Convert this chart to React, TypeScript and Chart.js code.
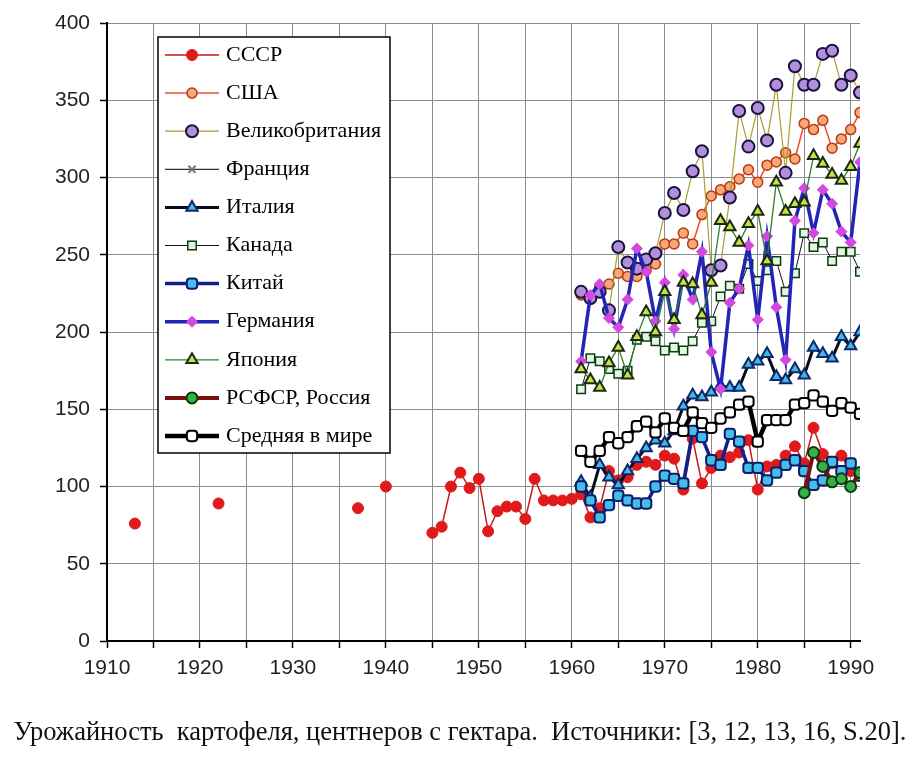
import React, { useEffect, useRef } from 'react';
import { Chart, registerables } from 'chart.js';
import { drawPoint } from 'chart.js/helpers';

Chart.register(...registerables);

const xTickValues = [1910, 1915, 1920, 1925, 1930, 1935, 1940, 1945, 1950, 1955, 1960, 1965, 1970, 1975, 1980, 1985, 1990];

const ussrYears = [1913, 1914, 1922, 1923, 1937, 1938, 1940, 1941,
  1945, 1946, 1947, 1948, 1949, 1950, 1951, 1952, 1953, 1954, 1955, 1956, 1957, 1958, 1959, 1960,
  1961, 1962, 1963, 1964, 1965, 1966, 1967, 1968, 1969, 1970, 1971, 1972, 1973, 1974, 1975,
  1976, 1977, 1978, 1979, 1980, 1981, 1982, 1983, 1984, 1985, 1986, 1987, 1988, 1989, 1990];
const ussrValues = [76, null, 89, null, 86, null, 100, null,
  70, 74, 100, 109, 99, 105, 71, 84, 87, 87, 79, 105, 91, 91, 91, 92,
  95, 80, 86, 110, 104, 106, 114, 116, 114, 120, 118, 98, 131, 102, 112,
  120, 119, 122, 130, 98, 113, 114, 120, 126, 115, 138, 121, 115, 120, 110];

const years = [1961, 1962, 1963, 1964, 1965, 1966, 1967, 1968, 1969, 1970, 1971, 1972, 1973, 1974, 1975,
  1976, 1977, 1978, 1979, 1980, 1981, 1982, 1983, 1984, 1985, 1986, 1987, 1988, 1989, 1990, 1991];

const usaValues = [224, 221, 229, 231, 238, 236, 236, 240, 244, 257, 257, 264, 257, 276, 288, 292, 294, 299, 305, 297, 308, 310, 316, 312, 335, 331, 337, 319, 325, 331, 342];
const ukValues = [226, 222, 226, 214, 255, 245, 241, 247, 251, 277, 290, 279, 304, 317, 240, 243, 287, 343, 320, 345, 324, 360, 303, 372, 360, 360, 380, 382, 360, 366, 355];
const franceValues: (number | null)[] = [];
const italyValues = [103, 93, 114, 106, 101, 110, 118, 125, 130, 128, 136, 152, 159, 158, 161, 165, 164, 164, 179, 181, 186, 171, 169, 176, 172, 190, 186, 183, 197, 191, 200];
const canadaValues = [163, 183, 181, 176, 173, 175, 195, 197, 194, 188, 190, 188, 194, 206, 207, 223, 230, 228, 244, 233, 240, 246, 226, 238, 264, 255, 258, 246, 252, 252, 239];
const chinaValues = [100, 91, 80, 88, 94, 91, 89, 89, 100, 107, 105, 102, 136, 132, 117, 114, 134, 129, 112, 112, 104, 109, 114, 117, 110, 101, 104, 116, 110, 115, 107];
const germanyValues = [181, 224, 231, 209, 203, 221, 254, 239, 207, 232, 202, 237, 221, 252, 187, 163, 219, 228, 256, 208, 262, 216, 182, 272, 293, 264, 292, 283, 265, 258, 310];
const japanValues = [176, 169, 164, 180, 190, 172, 197, 213, 200, 226, 208, 232, 231, 211, 232, 272, 268, 258, 270, 278, 246, 297, 278, 283, 284, 314, 309, 302, 298, 307, 322];
const rsfsrYears = [1985, 1986, 1987, 1988, 1989, 1990, 1991];
const rsfsrValues = [96, 122, 113, 103, 105, 100, 109];
const worldValues = [123, 116, 123, 132, 128, 132, 139, 142, 135, 144, 138, 136, 148, 141, 138, 144, 148, 153, 155, 129, 143, 143, 143, 153, 154, 159, 155, 149, 154, 151, 147];

const caption = 'Урожайность  картофеля, центнеров с гектара.  Источники: [3, 12, 13, 16, S.20].';

const pts = (xs: number[], ys: (number | null)[]) => ys.map((y, i) => ({ x: xs[i], y }));

const insetLegend = {
  id: 'insetLegend',
  afterDatasetsDraw(chart: any) {
    const ctx = chart.ctx as CanvasRenderingContext2D;
    ctx.save();
    const bx = 158, by = 37, bw = 232, bh = 416;
    ctx.fillStyle = '#ffffff';
    ctx.fillRect(bx, by, bw, bh);
    ctx.strokeStyle = '#000';
    ctx.lineWidth = 1.5;
    ctx.strokeRect(bx, by, bw, bh);
    chart.data.datasets.forEach((ds: any, i: number) => {
      const y = 55 + i * 38.1;
      ctx.strokeStyle = ds.borderColor;
      ctx.lineWidth = ds.borderWidth;
      ctx.beginPath();
      ctx.moveTo(165, y);
      ctx.lineTo(219, y);
      ctx.stroke();
      ctx.fillStyle = ds.pointBackgroundColor;
      ctx.strokeStyle = ds.pointBorderColor;
      ctx.lineWidth = ds.pointBorderWidth;
      drawPoint(ctx, { pointStyle: ds.pointStyle, radius: ds.pointRadius, borderWidth: ds.pointBorderWidth, rotation: 0 } as any, 192, y);
      ctx.fillStyle = '#000';
      ctx.font = '22px "Liberation Serif"';
      ctx.textBaseline = 'middle';
      ctx.textAlign = 'left';
      ctx.fillText(ds.label, 226, y);
    });
    ctx.restore();
  },
  afterDraw(chart: any) {
    const ctx = chart.ctx as CanvasRenderingContext2D;
    ctx.save();
    ctx.fillStyle = '#111';
    ctx.font = '26.5px "Liberation Serif", "Times New Roman", serif';
    ctx.textAlign = 'center';
    ctx.textBaseline = 'alphabetic';
    ctx.fillText(caption, 460, 740);
    ctx.restore();
  },
};

export default function App() {
  const ref = useRef<HTMLCanvasElement | null>(null);
  useEffect(() => {
    document.body.style.margin = '0';
    document.body.style.background = '#fff';
    const canvas = ref.current!;
    const mk = (label: string, data: any[], o: any) => ({ label, data, ...o });
    const datasets = [
      mk('СССР', pts(ussrYears, ussrValues), { borderColor: '#c81818', borderWidth: 1.5, pointStyle: 'circle', pointRadius: 5.5, pointBackgroundColor: '#e01a1a', pointBorderColor: '#e01a1a', pointBorderWidth: 1 }),
      mk('США', pts(years, usaValues), { borderColor: '#f04a2a', borderWidth: 1.5, pointStyle: 'circle', pointRadius: 5, pointBackgroundColor: '#f8a878', pointBorderColor: '#b83a10', pointBorderWidth: 1.5 }),
      mk('Великобритания', pts(years, ukValues), { borderColor: '#a8a030', borderWidth: 1.2, pointStyle: 'circle', pointRadius: 6, pointBackgroundColor: '#b090d8', pointBorderColor: '#1c1040', pointBorderWidth: 2 }),
      mk('Франция', pts(years, franceValues), { borderColor: '#000', borderWidth: 1, pointStyle: 'crossRot', pointRadius: 5, pointBackgroundColor: '#777', pointBorderColor: '#777', pointBorderWidth: 2 }),
      mk('Италия', pts(years, italyValues), { borderColor: '#0a0a1a', borderWidth: 3, pointStyle: 'triangle', pointRadius: 6.5, pointBackgroundColor: '#48b4e8', pointBorderColor: '#0a2a6a', pointBorderWidth: 2 }),
      mk('Канада', pts(years, canadaValues), { borderColor: '#111', borderWidth: 1, pointStyle: 'rect', pointRadius: 6, pointBackgroundColor: '#e4f8e0', pointBorderColor: '#0c3a14', pointBorderWidth: 1.5 }),
      mk('Китай', pts(years, chinaValues), { borderColor: '#14208a', borderWidth: 3.5, pointStyle: 'rectRounded', pointRadius: 6, pointBackgroundColor: '#48bce8', pointBorderColor: '#0a1e6a', pointBorderWidth: 2 }),
      mk('Германия', pts(years, germanyValues), { borderColor: '#2224b8', borderWidth: 3.5, pointStyle: 'rectRot', pointRadius: 5.5, pointBackgroundColor: '#d248e0', pointBorderColor: '#d248e0', pointBorderWidth: 1 }),
      mk('Япония', pts(years, japanValues), { borderColor: '#2a8030', borderWidth: 1.3, pointStyle: 'triangle', pointRadius: 6.5, pointBackgroundColor: '#c8e048', pointBorderColor: '#1a2a10', pointBorderWidth: 2 }),
      mk('РСФСР, Россия', pts(rsfsrYears, rsfsrValues), { borderColor: '#7a1010', borderWidth: 4, pointStyle: 'circle', pointRadius: 5.5, pointBackgroundColor: '#38b048', pointBorderColor: '#0a3a10', pointBorderWidth: 2 }),
      mk('Средняя в мире', pts(years, worldValues), { borderColor: '#000', borderWidth: 4.5, pointStyle: 'rectRounded', pointRadius: 6, pointBackgroundColor: '#fff', pointBorderColor: '#000', pointBorderWidth: 2 }),
    ].map((d, i, arr) => ({ ...d, order: arr.length - i, spanGaps: false, tension: 0, fill: false }));

    const tickFont = { family: '"Liberation Sans", Arial, sans-serif', size: 21 };
    const chart = new Chart(canvas, {
      type: 'line',
      data: { datasets },
      options: {
        animation: false,
        responsive: false,
        events: [],
        layout: { padding: { left: 0, right: 64, top: 23, bottom: 60 } },
        plugins: {
          legend: { display: false },
          tooltip: { enabled: false },
          title: { display: false },
        },
        scales: {
          x: {
            type: 'linear',
            min: 1910,
            max: 1991,
            afterBuildTicks: (s: any) => { s.ticks = xTickValues.map((v) => ({ value: v })); },
            afterFit: (s: any) => { s.height = 65; },
            ticks: {
              autoSkip: false,
              maxRotation: 0,
              padding: 8,
              color: '#222',
              font: tickFont,
              callback: (v: any) => (Number(v) % 10 === 0 ? String(v) : ''),
            },
            grid: { color: '#8c8c8c', lineWidth: 1, tickColor: '#000', tickLength: 7, tickWidth: 1.5 },
            border: { color: '#000', width: 2 },
          },
          y: {
            min: 0,
            max: 400,
            afterFit: (s: any) => { s.width = 107; },
            ticks: { stepSize: 50, padding: 10, color: '#222', font: tickFont },
            grid: { color: '#8c8c8c', lineWidth: 1, tickColor: '#000', tickLength: 7, tickWidth: 1.5 },
            border: { color: '#000', width: 2 },
          },
        },
      } as any,
      plugins: [insetLegend],
    });
    return () => chart.destroy();
  }, []);
  return (
    <div style={{ width: 924, height: 766, background: '#fff' }}>
      <canvas ref={ref} width={924} height={766} style={{ display: 'block' }} />
    </div>
  );
}
